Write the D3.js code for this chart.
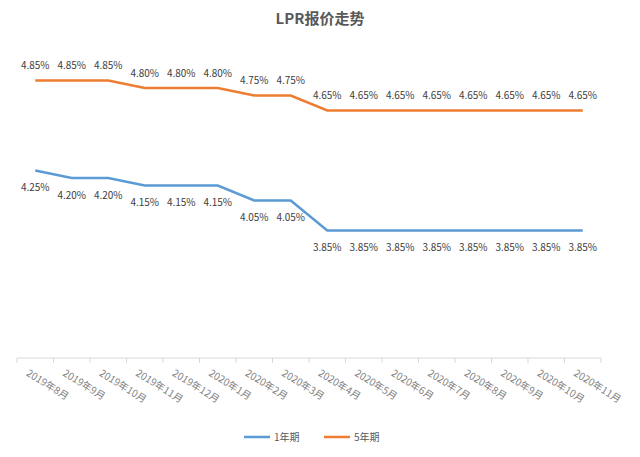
<!DOCTYPE html>
<html><head><meta charset="utf-8">
<script src="https://cdn.jsdelivr.net/npm/d3@7"></script>
<style>body{margin:0;background:#fff;font-family:"Noto Sans CJK SC","Noto Sans",sans-serif}</style>
</head><body><div id="chart"></div>
<script>
// data
const months = ["2019年8月","2019年9月","2019年10月","2019年11月","2019年12月","2020年1月","2020年2月","2020年3月",
  "2020年4月","2020年5月","2020年6月","2020年7月","2020年8月","2020年9月","2020年10月","2020年11月"];
const lpr1y = [4.25,4.20,4.20,4.15,4.15,4.15,4.05,4.05,3.85,3.85,3.85,3.85,3.85,3.85,3.85,3.85];
const lpr5y = [4.85,4.85,4.85,4.80,4.80,4.80,4.75,4.75,4.65,4.65,4.65,4.65,4.65,4.65,4.65,4.65];

const width = 640, height = 457;
const svg = d3.select("#chart").append("svg").attr("width", width).attr("height", height);

const x = d3.scaleBand().domain(months).range([17, 601]);
const y = d3.scaleLinear().domain([3, 5]).range([358, 58]);

svg.append("text").attr("x", width / 2).attr("y", 24).attr("text-anchor", "middle")
  .attr("font-size", 15).attr("font-weight", "bold").attr("fill", "#595959").text("LPR报价走势");

// x axis
const xAxis = svg.append("g").attr("transform", "translate(0,358)");
xAxis.append("line").attr("x1", 17).attr("x2", 601).attr("stroke", "#d9d9d9");
xAxis.selectAll("line.tick").data(d3.range(months.length + 1)).enter().append("line")
  .attr("x1", i => 17 + i * x.step()).attr("x2", i => 17 + i * x.step())
  .attr("y1", 0).attr("y2", 5).attr("stroke", "#d9d9d9");
xAxis.selectAll("text").data(months).enter().append("text")
  .attr("transform", d => `translate(${x(d) + x.bandwidth() / 2 - 6},11) rotate(32)`)
  .attr("text-anchor", "start").attr("font-size", 10).attr("fill", "#7f7f7f").attr("dy", "0.7em")
  .text(d => d);

const series = [
  { name: "1年期", values: lpr1y, color: "#5b9bd5", dy: 17 },
  { name: "5年期", values: lpr5y, color: "#ed7d31", dy: -15 }
];
const line = d3.line().x((d, i) => x(months[i]) + x.bandwidth() / 2).y(d => y(d));

series.forEach(s => {
  svg.append("path").datum(s.values).attr("d", line).attr("fill", "none")
    .attr("stroke", s.color).attr("stroke-width", 2.5);
  svg.selectAll(null).data(s.values).enter().append("text")
    .attr("x", (d, i) => x(months[i]) + x.bandwidth() / 2)
    .attr("y", d => y(d) + s.dy).attr("dy", "0.35em")
    .attr("text-anchor", "middle").attr("font-size", 10).attr("fill", "#404040")
    .text(d => d.toFixed(2) + "%");
});

// legend
const lg = svg.append("g").attr("transform", "translate(244,437)");
series.forEach((s, i) => {
  const g = lg.append("g").attr("transform", `translate(${i * 80},0)`);
  g.append("line").attr("x1", 0).attr("x2", 26).attr("stroke", s.color).attr("stroke-width", 2.5);
  g.append("text").attr("x", 30).attr("dy", "0.35em").attr("font-size", 10).attr("fill", "#595959").text(s.name);
});
</script></body></html>
